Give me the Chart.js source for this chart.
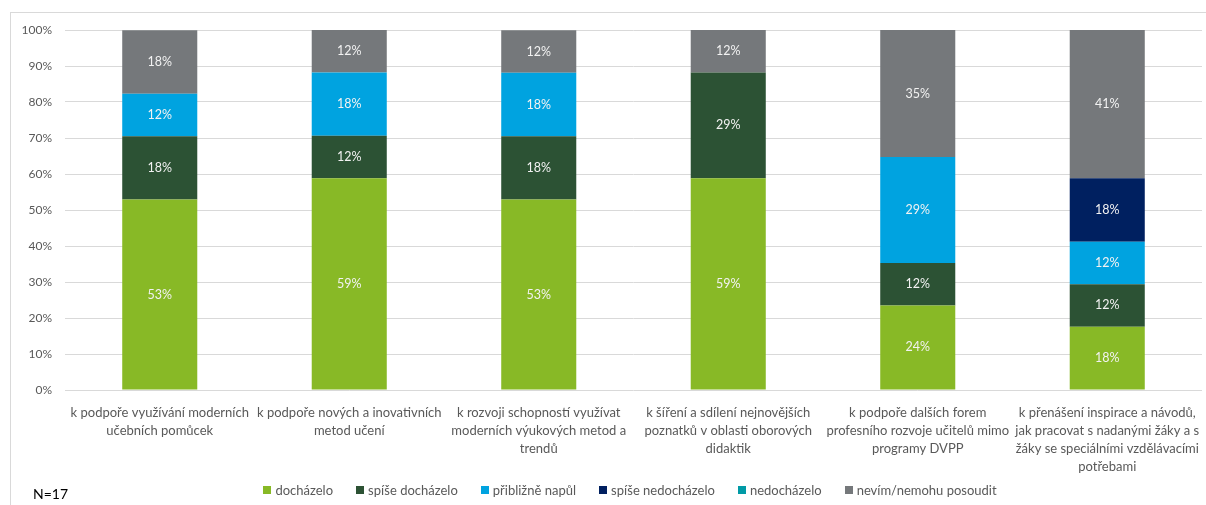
<!DOCTYPE html>
<html>
<head>
<meta charset="utf-8">
<script src="https://cdn.jsdelivr.net/npm/chart.js@4"></script>
<style>
  html, body { margin: 0; padding: 0; background: #fff; }
  body { width: 1206px; height: 505px; position: relative; overflow: hidden; font-family: Lato, "Open Sans", sans-serif; }
  #frame { position: absolute; left: 10px; top: 12px; width: 1400px; height: 700px; border: 1px solid #d9d9d9; }
  #wrap { position: absolute; left: 0; top: 0; width: 1206px; height: 505px; }
  #n { position: absolute; left: 33px; top: 485px; font-size: 14px; color: #000; }
  #legend { position: absolute; left: 0; width: 1260px; top: 482px; display: flex; justify-content: center; gap: 23px; font-size: 13px; color: #595959; }
  #legend .item { display: flex; align-items: center; white-space: nowrap; }
  #legend .box { width: 8px; height: 8px; margin-right: 4px; }
</style>
</head>
<body>
<div id="frame"></div>
<div id="wrap"><canvas id="Chart"></canvas></div>
<div id="legend"></div>
<div id="n">N=17</div>
<script>
// kategorie (popisky osy x po řádcích)
const categories = [
  ["k podpoře využívání moderních", "učebních pomůcek"],
  ["k podpoře nových a inovativních", "metod učení"],
  ["k rozvoji schopností využívat", "moderních výukových metod a", "trendů"],
  ["k šíření a sdílení nejnovějších", "poznatků v oblasti oborových", "didaktik"],
  ["k podpoře dalších forem", "profesního rozvoje učitelů mimo", "programy DVPP"],
  ["k přenášení inspirace a návodů,", "jak pracovat s nadanými žáky a s", "žáky se speciálními vzdělávacími", "potřebami"]
];

const seriesNames = ["docházelo", "spíše docházelo", "přibližně napůl", "spíše nedocházelo", "nedocházelo", "nevím/nemohu posoudit"];
const seriesColors = ["#88b926", "#2c5234", "#00a3e0", "#002060", "#009aa6", "#75787b"];

// hodnoty v % (N=17)
const dochazelo        = [52.9, 58.8, 52.9, 58.8, 23.5, 17.6];
const spiseDochazelo   = [17.6, 11.8, 17.6, 29.4, 11.8, 11.8];
const priblizneNapul   = [11.8, 17.6, 17.6, 0, 29.4, 11.8];
const spiseNedochazelo = [0, 0, 0, 0, 0, 17.6];
const nedochazelo      = [0, 0, 0, 0, 0, 0];
const nevim            = [17.6, 11.8, 11.8, 11.8, 35.3, 41.2];

const yTicks = [0, 10, 20, 30, 40, 50, 60, 70, 80, 90, 100];

const seriesValues = [dochazelo, spiseDochazelo, priblizneNapul, spiseNedochazelo, nedochazelo, nevim];

const datasets = seriesNames.map((name, i) => ({
  label: name,
  data: seriesValues[i],
  backgroundColor: seriesColors[i],
  categoryPercentage: 1,
  barPercentage: 0.396,
}));

// legenda jako HTML (kvůli posunu středu doprava)
const legendEl = document.getElementById("legend");
seriesNames.forEach((name, i) => {
  const item = document.createElement("div");
  item.className = "item";
  const box = document.createElement("span");
  box.className = "box";
  box.style.backgroundColor = seriesColors[i];
  item.appendChild(box);
  item.appendChild(document.createTextNode(name));
  legendEl.appendChild(item);
});

const valueLabels = {
  id: "valueLabels",
  afterDatasetsDraw(chart) {
    const ctx = chart.ctx;
    ctx.save();
    ctx.font = "12.5px Lato, sans-serif";
    ctx.fillStyle = "#f2f2f2";
    ctx.textAlign = "center";
    ctx.textBaseline = "middle";
    chart.data.datasets.forEach((ds, di) => {
      const meta = chart.getDatasetMeta(di);
      meta.data.forEach((bar, i) => {
        const v = ds.data[i];
        if (!v) return;
        const p = bar.getProps(["x", "y", "base"], true);
        ctx.fillText(Math.round(v) + "%", p.x, (p.y + p.base) / 2);
      });
    });
    ctx.restore();
  }
};

Chart.defaults.font.family = "Lato, sans-serif";

new Chart(document.getElementById("Chart"), {
  type: "bar",
  data: { labels: categories, datasets: datasets },
  plugins: [valueLabels],
  options: {
    responsive: true,
    maintainAspectRatio: false,
    animation: false,
    layout: { padding: { left: 0, right: 4, top: 30, bottom: 0 } },
    plugins: {
      legend: { display: false },
      tooltip: { enabled: false },
    },
    scales: {
      x: {
        stacked: true,
        grid: { display: false },
        border: { display: false },
        ticks: {
          color: "#595959",
          font: { size: 13, lineHeight: 1.38 },
          maxRotation: 0,
          autoSkip: false,
          padding: 6,
        },
        afterFit(scale) { scale.height = 115; },
      },
      y: {
        stacked: true,
        min: 0,
        max: 100,
        afterBuildTicks(scale) { scale.ticks = yTicks.map(v => ({ value: v })); },
        grid: { color: "#d9d9d9", drawTicks: false },
        border: { display: false },
        ticks: {
          color: "#595959",
          font: { size: 12 },
          padding: 13,
          callback: (v) => v + "%",
        },
        afterFit(scale) { scale.width = 65; },
      },
    },
  },
});
</script>
</body>
</html>
